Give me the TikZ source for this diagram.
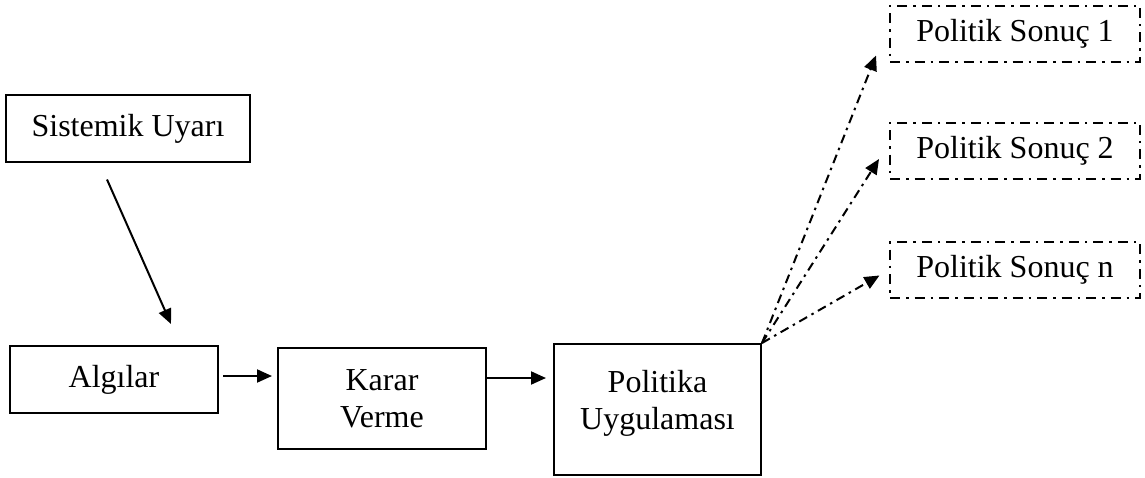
\documentclass[tikz,border=0pt]{standalone}
\usepackage{fontspec}
\setmainfont{Liberation Serif}
\usetikzlibrary{arrows.meta}

\begin{document}
\begin{tikzpicture}[x=1pt,y=-1pt,font=\fontsize{32}{37}\selectfont,
   kutu/.style n args={2}{draw,line width=2pt,minimum width=#1pt,minimum height=#2pt,align=center,inner sep=0pt},
   sonuc/.style={kutu={250}{56},dash pattern=on 10pt off 6pt on 2.5pt off 6pt},
   ok/.style={line width=2pt,-{Triangle[length=15pt,width=13pt]}},
   okn/.style={ok,dash pattern=on 9pt off 5pt on 2.5pt off 5pt}]
\useasboundingbox (0,0) rectangle (1145,477);
\node[kutu={244}{67}] (su) at (128,128.5) {Sistemik Uyarı};
\node[kutu={208}{67}] (al) at (114,379.5) {Algılar};
\node[kutu={208}{101}] (kv) at (382,398.5) {Karar\\Verme};
\node[kutu={207}{131}] (pu) at (657.5,409.5) {Politika\\Uygulaması\\[-17pt]};
\foreach \n/\y in %
{1/33.5,2/150.5,n/270} {
   \node[sonuc] (s\n) at (1015,\y) {Politik Sonuç \n};
}
\draw[ok] ([xshift=-21pt,yshift=-16.5pt]su.south) -- ([xshift=57pt,yshift=21pt]al.north);
\draw[ok,shorten <=4pt,shorten >=5pt] ([yshift=3.5pt]al.east) -- ([yshift=3.5pt]al.east -| kv.west);
\draw[ok,shorten >=7pt] ([yshift=20.5pt]kv.east) -- ([yshift=20.5pt]kv.east -| pu.west);
\draw[okn] (pu.north east) -- ([xshift=-13pt,yshift=7pt]s1.south west);
\draw[okn] (pu.north east) -- ([xshift=-10pt,yshift=-8.5pt]s2.west);
\draw[okn,shorten >=11pt] (pu.north east) -- (sn.west);
\end{tikzpicture}
\end{document}
